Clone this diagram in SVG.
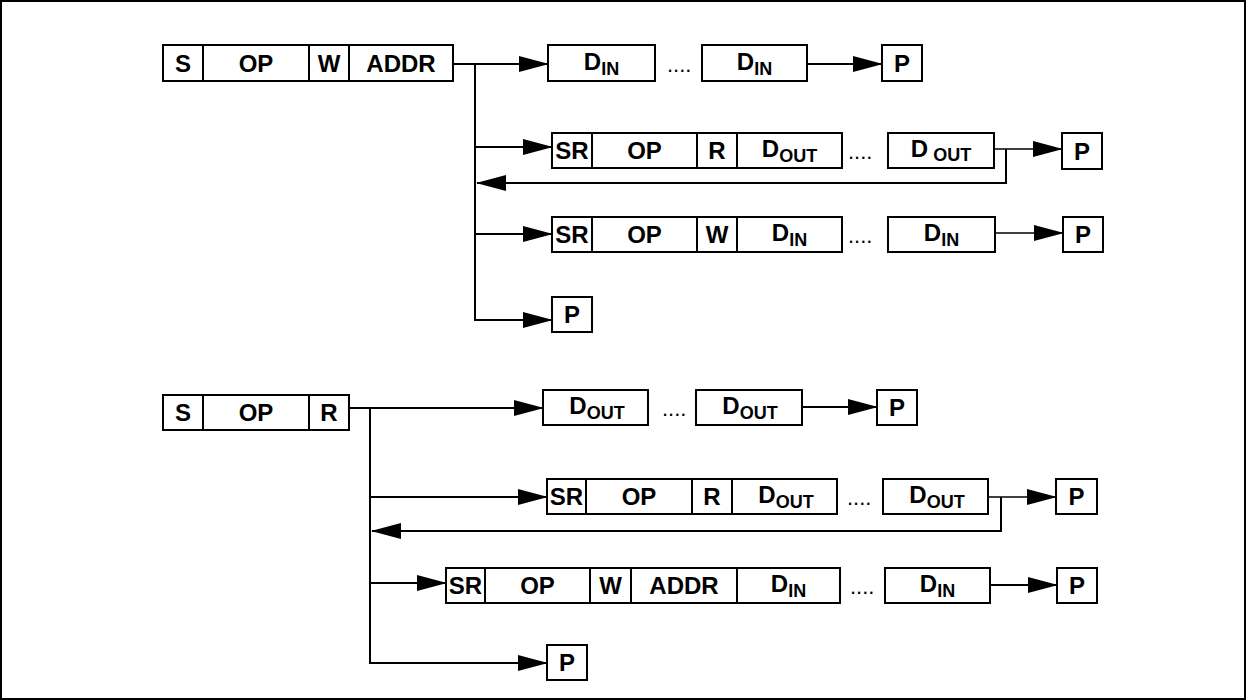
<svg xmlns="http://www.w3.org/2000/svg" width="1246" height="700" viewBox="0 0 1246 700">
<style>
.b{fill:#fff;stroke:#000;stroke-width:2}
.t{font-family:"Liberation Sans",Arial,sans-serif;font-weight:bold;font-size:24px;text-anchor:middle;fill:#000}
.s{font-size:18px}
.d{font-family:"Liberation Sans",Arial,sans-serif;font-size:22px;fill:#000}
.c{stroke:#000;stroke-width:2;fill:none}
.a{marker-end:url(#ah)}
.thin{stroke-width:1.5}
</style>
<defs>
<marker id="ah" markerUnits="userSpaceOnUse" markerWidth="30" markerHeight="16" viewBox="0 0 30 16" refX="29" refY="8" orient="auto">
<path d="M0,0 L30,8 L0,16 Z" fill="#000"/>
</marker>
</defs>
<rect x="1" y="1" width="1244" height="698" fill="#fff" stroke="#000" stroke-width="2"/>

<g id="connectors">
<path class="c a" d="M453,64 H548"/>
<path class="c" d="M475,64 V321"/>
<path class="c a" d="M807,64 H882"/>
<path class="c a" d="M475,147 H552"/>
<path class="c a thin" d="M994,149 H1062"/>
<path class="c a" d="M1006,149 V183 H477"/>
<path class="c a" d="M475,234 H552"/>
<path class="c a thin" d="M995,233 H1063"/>
<path class="c a" d="M475,320 H552"/>
<path class="c a" d="M349,408 H543"/>
<path class="c" d="M370,408 V664"/>
<path class="c a" d="M802,407 H877"/>
<path class="c a" d="M370,497 H547"/>
<path class="c a thin" d="M988,497 H1056"/>
<path class="c a" d="M1001,497 V531 H372"/>
<path class="c a" d="M370,583 H446"/>
<path class="c a" d="M990,585 H1057"/>
<path class="c a" d="M370,663 H547"/>
</g>

<!-- Top section, row 1 -->
<g id="t1-s"><rect class="b" x="163" y="45" width="40" height="36"/><text class="t" x="183" y="72">S</text></g>
<g id="t1-op"><rect class="b" x="203" y="45" width="106" height="36"/><text class="t" x="256" y="72">OP</text></g>
<g id="t1-w"><rect class="b" x="309" y="45" width="40" height="36"/><text class="t" x="329" y="72">W</text></g>
<g id="t1-addr"><rect class="b" x="349" y="45" width="104" height="36"/><text class="t" x="401" y="72">ADDR</text></g>
<g id="t1-din1"><rect class="b" x="548" y="45" width="107" height="36"/><text class="t" x="601.5" y="70">D<tspan class="s" dy="5">IN</tspan></text></g>
<text class="d" x="667" y="72">....</text>
<g id="t1-din2"><rect class="b" x="702" y="45" width="105" height="36"/><text class="t" x="754.5" y="70">D<tspan class="s" dy="5">IN</tspan></text></g>
<g id="t1-p"><rect class="b" x="882" y="45" width="40" height="36"/><text class="t" x="902" y="72">P</text></g>

<!-- Top section, row 2 -->
<g id="t2-sr"><rect class="b" x="552" y="133" width="40" height="35"/><text class="t" x="572" y="159">SR</text></g>
<g id="t2-op"><rect class="b" x="592" y="133" width="105" height="35"/><text class="t" x="644.5" y="159">OP</text></g>
<g id="t2-r"><rect class="b" x="697" y="133" width="40" height="35"/><text class="t" x="717" y="159">R</text></g>
<g id="t2-dout1"><rect class="b" x="737" y="133" width="105" height="35"/><text class="t" x="789.5" y="157">D<tspan class="s" dy="5">OUT</tspan></text></g>
<text class="d" x="848" y="159">....</text>
<g id="t2-dout2"><rect class="b" x="888" y="133" width="106" height="35"/><text class="t" x="941" y="157">D<tspan class="s" dy="4"> OUT</tspan></text></g>
<g id="t2-p"><rect class="b" x="1062" y="133" width="40" height="36"/><text class="t" x="1082" y="160">P</text></g>

<!-- Top section, row 3 -->
<g id="t3-sr"><rect class="b" x="552" y="217" width="40" height="35"/><text class="t" x="572" y="243">SR</text></g>
<g id="t3-op"><rect class="b" x="592" y="217" width="105" height="35"/><text class="t" x="644.5" y="243">OP</text></g>
<g id="t3-w"><rect class="b" x="697" y="217" width="40" height="35"/><text class="t" x="717" y="243">W</text></g>
<g id="t3-din1"><rect class="b" x="737" y="217" width="105" height="35"/><text class="t" x="789.5" y="241">D<tspan class="s" dy="5">IN</tspan></text></g>
<text class="d" x="848" y="243">....</text>
<g id="t3-din2"><rect class="b" x="888" y="217" width="107" height="35"/><text class="t" x="941.5" y="241">D<tspan class="s" dy="5">IN</tspan></text></g>
<g id="t3-p"><rect class="b" x="1063" y="217" width="40" height="35"/><text class="t" x="1083" y="243">P</text></g>

<!-- Top section, row 4 -->
<g id="t4-p"><rect class="b" x="552" y="297" width="40" height="35"/><text class="t" x="572" y="323">P</text></g>

<!-- Bottom section, row 1 -->
<g id="b1-s"><rect class="b" x="163" y="395" width="40" height="35"/><text class="t" x="183" y="421">S</text></g>
<g id="b1-op"><rect class="b" x="203" y="395" width="106" height="35"/><text class="t" x="256" y="421">OP</text></g>
<g id="b1-r"><rect class="b" x="309" y="395" width="40" height="35"/><text class="t" x="329" y="421">R</text></g>
<g id="b1-dout1"><rect class="b" x="543" y="390" width="105" height="35"/><text class="t" x="597" y="414">D<tspan class="s" dy="5">OUT</tspan></text></g>
<text class="d" x="662" y="416">....</text>
<g id="b1-dout2"><rect class="b" x="696" y="390" width="106" height="35"/><text class="t" x="750" y="414">D<tspan class="s" dy="5">OUT</tspan></text></g>
<g id="b1-p"><rect class="b" x="877" y="390" width="40" height="35"/><text class="t" x="897" y="416">P</text></g>

<!-- Bottom section, row 2 -->
<g id="b2-sr"><rect class="b" x="547" y="479" width="39" height="35"/><text class="t" x="566.5" y="505">SR</text></g>
<g id="b2-op"><rect class="b" x="586" y="479" width="106" height="35"/><text class="t" x="639" y="505">OP</text></g>
<g id="b2-r"><rect class="b" x="692" y="479" width="40" height="35"/><text class="t" x="712" y="505">R</text></g>
<g id="b2-dout1"><rect class="b" x="732" y="479" width="105" height="35"/><text class="t" x="786" y="503">D<tspan class="s" dy="5">OUT</tspan></text></g>
<text class="d" x="847" y="505">....</text>
<g id="b2-dout2"><rect class="b" x="883" y="479" width="105" height="35"/><text class="t" x="937" y="503">D<tspan class="s" dy="5">OUT</tspan></text></g>
<g id="b2-p"><rect class="b" x="1056" y="479" width="41" height="35"/><text class="t" x="1076.5" y="505">P</text></g>

<!-- Bottom section, row 3 -->
<g id="b3-sr"><rect class="b" x="446" y="568" width="39" height="35"/><text class="t" x="465.5" y="594">SR</text></g>
<g id="b3-op"><rect class="b" x="485" y="568" width="105" height="35"/><text class="t" x="537.5" y="594">OP</text></g>
<g id="b3-w"><rect class="b" x="590" y="568" width="41" height="35"/><text class="t" x="610.5" y="594">W</text></g>
<g id="b3-addr"><rect class="b" x="631" y="568" width="106" height="35"/><text class="t" x="684" y="594">ADDR</text></g>
<g id="b3-din1"><rect class="b" x="737" y="568" width="103" height="35"/><text class="t" x="788.5" y="592">D<tspan class="s" dy="5">IN</tspan></text></g>
<text class="d" x="850" y="594">....</text>
<g id="b3-din2"><rect class="b" x="885" y="568" width="105" height="35"/><text class="t" x="937.5" y="592">D<tspan class="s" dy="5">IN</tspan></text></g>
<g id="b3-p"><rect class="b" x="1057" y="568" width="40" height="35"/><text class="t" x="1077" y="594">P</text></g>

<!-- Bottom section, row 4 -->
<g id="b4-p"><rect class="b" x="547" y="645" width="40" height="35"/><text class="t" x="567" y="671">P</text></g>
</svg>
